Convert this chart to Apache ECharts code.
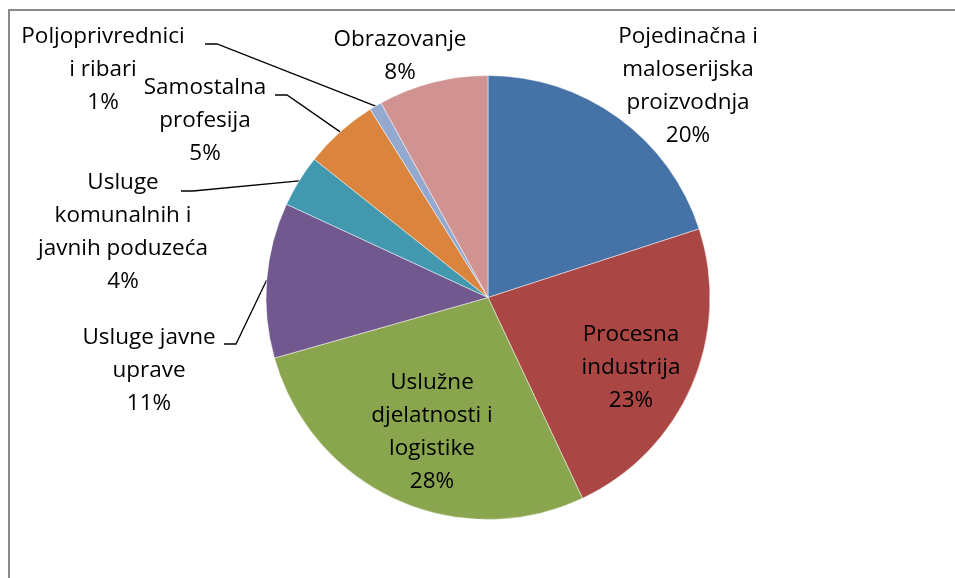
<!DOCTYPE html>
<html>
<head>
<meta charset="utf-8">
<script src="https://cdn.jsdelivr.net/npm/echarts@6/dist/echarts.min.js"></script>
<style>
  html, body { margin: 0; padding: 0; background: #fff; }
  #chart { width: 955px; height: 578px; }
</style>
</head>
<body>
<div id="chart"></div>
<script>
var categories = [
    'Pojedinačna i\nmaloserijska\nproizvodnja',
    'Procesna\nindustrija',
    'Uslužne\ndjelatnosti i\nlogistike',
    'Usluge javne\nuprave',
    'Usluge\nkomunalnih i\njavnih poduzeća',
    'Samostalna\nprofesija',
    'Poljoprivrednici\ni ribari',
    'Obrazovanje'
];
var values = [20, 23, 27.6, 11.3, 3.8, 5.4, 0.9, 8];
var colors = ['#4572A7', '#AA4643', '#89A54E', '#71588F', '#4198AF', '#DB843D', '#93A9CF', '#D19392'];

// label placement (centre of text block) and the text end of the leader line
var labelCenter = [[688, 86], [631, 368], [432, 432], [149, 371], [123, 232], [205, 121], [103, 70], [400, 56]];
var leaderFrom = [null, null, null, [224, 344], [181, 191], [275, 95], [205, 44], null];
var insideLabel = [false, true, true, false, false, false, false, false];

var cx = 488, cy = 297.5, radius = 222;

var total = 0;
values.forEach(function (v) { total += v; });

function edgePoint(i) {
    var before = 0;
    for (var j = 0; j < i; j++) before += values[j];
    var a = (before + values[i] / 2) / total * Math.PI * 2;
    return [cx + radius * Math.sin(a), cy - radius * Math.cos(a)];
}

var pieData = categories.map(function (name, i) {
    return {
        name: name,
        value: values[i],
        itemStyle: { color: colors[i] },
        label: { position: insideLabel[i] ? 'inside' : 'outside' },
        labelLine: { show: leaderFrom[i] != null }
    };
});

var chart = echarts.init(document.getElementById('chart'));
chart.setOption({
    animation: false,
    graphic: [{
        type: 'rect',
        shape: { x: 9, y: 10, width: 1200, height: 1000 },
        style: { fill: 'none', stroke: '#8a8a8a', lineWidth: 2 },
        silent: true
    }],
    series: [{
        type: 'pie',
        center: [cx, cy],
        radius: radius,
        startAngle: 90,
        clockwise: true,
        avoidLabelOverlap: false,
        percentPrecision: 0,
        itemStyle: { borderColor: 'rgba(255,255,255,0.6)', borderWidth: 0.8 },
        label: {
            formatter: '{b}\n{d}%',
            fontFamily: 'Open Sans',
            fontSize: 22.5,
            lineHeight: 33,
            color: '#000',
            align: 'center'
        },
        labelLine: {
            lineStyle: { color: '#000', width: 1.3 }
        },
        labelLayout: function (params) {
            var i = params.dataIndex;
            var out = {
                x: labelCenter[i][0],
                y: labelCenter[i][1],
                align: 'center',
                verticalAlign: 'middle'
            };
            if (leaderFrom[i]) {
                var s = leaderFrom[i];
                out.labelLinePoints = [edgePoint(i), [s[0] + 12, s[1]], s];
            }
            return out;
        },
        data: pieData
    }]
});
</script>
</body>
</html>
